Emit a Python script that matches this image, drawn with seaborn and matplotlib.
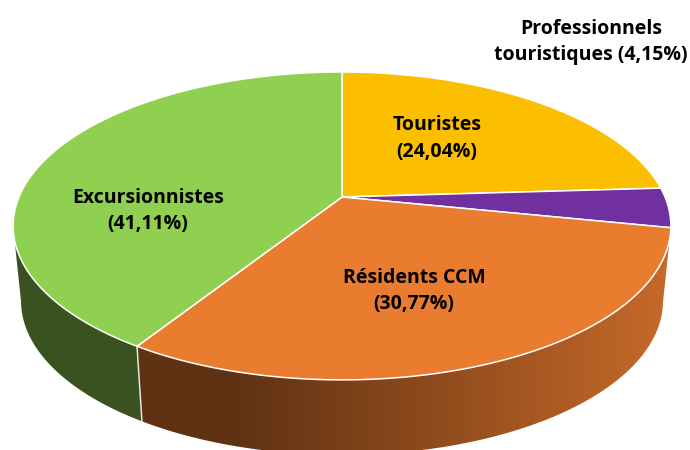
import numpy as np
import matplotlib
matplotlib.use("Agg")
import matplotlib.pyplot as plt
from matplotlib.colors import LinearSegmentedColormap
from matplotlib.patches import Polygon
import seaborn as sns

categories = ["Touristes", "Professionnels touristiques", "Résidents CCM", "Excursionnistes"]
shares = [24.04, 4.15, 30.77, 41.04]
shown = ["24,04%", "4,15%", "30,77%", "41,11%"]
colors = ["#FCBF00", "#7030A0", "#EA7C30", "#90D050"]

sns.set_theme(style="white")
plt.rcParams["font.family"] = ["Open Sans", "DejaVu Sans"]

CX, CY, RX, RY, K = 342, 197, 323, 148.5, 0.188
DEPTH, SHRINK = 75, 0.976


def rim(deg):
    a = np.radians(deg)
    u, v = np.sin(a), np.cos(a)
    w = 1 + K * v
    return CX + RX * u / w, CY - RY * v / w


def lower(x, y):
    return CX + (x - CX) * SHRINK, y + DEPTH


fig = plt.figure(figsize=(6.9, 4.5), dpi=100, facecolor="white")
ax = fig.add_axes([0, 0, 1, 1])

edges = np.concatenate([[0], np.cumsum(shares)]) / sum(shares) * 360
orange_side = LinearSegmentedColormap.from_list(
    "side", [(0, "#5F3213"), (0.19, "#5F3213"), (1, "#C86A2A")]
)

# Orange wall: smooth horizontal gradient clipped to the wall outline
th = np.linspace(edges[2], edges[3], 200)
xs, ys = rim(th)
bx, by = lower(xs, ys)
outline = Polygon(np.c_[np.r_[xs, bx[::-1]], np.r_[ys, by[::-1]]], closed=True,
                  facecolor="none", edgecolor="none", transform=ax.transData)
ax.add_patch(outline)
grad = np.linspace(0, 1, 512)[None, :]
im = ax.imshow(grad, cmap=orange_side, extent=(130, 675, 470, 200), aspect="auto",
               interpolation="bilinear", zorder=2)
im.set_clip_path(outline)

# Green wall, from the seam to the left silhouette
th = np.linspace(edges[3], 259, 60)
xs, ys = rim(th)
bx, by = lower(xs, ys)
ax.fill(np.r_[xs, bx[::-1]], np.r_[ys, by[::-1]], color="#3A5220", lw=0, zorder=2)

# White seam between walls
x0, y0 = rim(edges[3])
bx0, by0 = lower(x0, y0)
ax.plot([x0, bx0], [y0, by0], color="#E4E4E4", lw=1.1, zorder=3)

# Top slices
for i, col in enumerate(colors):
    th = np.linspace(edges[i], edges[i + 1], 120)
    xs, ys = rim(th)
    ax.fill(np.r_[CX, xs], np.r_[CY, ys], facecolor=col, edgecolor="white",
            lw=1.1, joinstyle="round", zorder=4)

ax.set_xlim(0, 690)
ax.set_ylim(450, 0)
ax.axis("off")

label_xy = [(437, 138.5), (591, 42), (414, 291), (148, 211)]
names = ["Touristes", "Professionnels\ntouristiques", "Résidents CCM", "Excursionnistes"]
seps = ["\n", " ", "\n", "\n"]
for name, sep, val, (lx, ly) in zip(names, seps, shown, label_xy):
    ax.text(lx, ly, f"{name}{sep}({val})", ha="center", va="center",
            fontsize=14, fontweight="bold", color="black", linespacing=1.4, zorder=6)

fig.savefig("out.png", dpi=100)
